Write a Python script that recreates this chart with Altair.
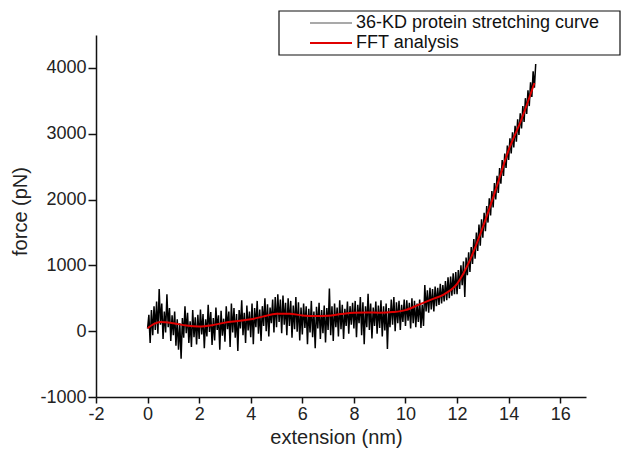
import altair as alt
import pandas as pd

# FFT smoothed curve
fft_x = [0, 0.25, 0.5, 1.0, 1.5, 2.0, 2.5, 3.0, 3.5, 4.0, 4.5, 5.0, 5.5, 6.0, 6.5,
         7.0, 7.5, 8.0, 8.5, 9.0, 9.5, 10.0, 10.5, 11.0, 11.5, 12.0, 12.5, 13.0,
         13.5, 14.0, 14.5, 15.0]
fft_y = [45, 110, 140, 120, 85, 70, 90, 130, 155, 180, 225, 265, 265, 240, 230,
         235, 260, 280, 285, 280, 290, 320, 400, 480, 560, 720, 1080, 1580,
         2150, 2750, 3220, 3770]

# raw stretching curve, sampled every 0.05 nm from 0 to 15.05 nm
raw_step = 0.05
raw_y = [
    40, 250, -180, 320, -60, 380, 20, 450, -40, 640, 100, 420, -120, 300, -20, 560, 60, 350, -150, 240,
    -60, 300, -220, 180, -280, 120, -420, 200, -100, 380, -30, 280, -180, 150, -240, 320, -90, 210, -200, 250,
    -120, 330, -50, 260, -260, 180, -80, 400, -10, 290, -210, 200, -140, 360, 20, 240, -280, 310, -70, 190,
    -160, 380, 30, 300, -240, 420, -20, 350, -100, 260, -300, 320, 40, 470, -60, 280, -180, 390, 10, 300,
    -90, 420, -200, 350, 60, 460, -40, 330, -150, 380, 80, 500, 0, 410, -80, 360, 120, 480, -20, 520,
    60, 560, 140, 480, -30, 540, 100, 430, -60, 500, 80, 460, -100, 390, 30, 520, -10, 440, -140, 360,
    -50, 420, 50, 380, -200, 340, -20, 460, -90, 300, -260, 370, 40, 430, -120, 320, -30, 390, -170, 350,
    20, 650, -60, 380, -150, 420, 60, 360, -80, 470, 30, 400, -120, 340, 80, 450, -40, 380, 100, 430,
    40, 460, -90, 400, 120, 520, -60, 440, -200, 380, 60, 570, 20, 420, -110, 360, 80, 450, -40, 390,
    50, 470, -80, 380, 10, 420, -270, 350, 60, 480, 100, 520, 0, 440, 120, 460, 20, 400, 140, 480,
    80, 470, 160, 430, 40, 500, 120, 460, 60, 420, 140, 480, 50, 400, 80, 700, 300, 620, 280, 660,
    330, 640, 300, 680, 380, 660, 400, 720, 420, 700, 450, 760, 470, 820, 500, 830, 540, 880, 560, 900,
    560, 930, 640, 1000, 700, 1060, 520, 1120, 850, 1200, 900, 1280, 1020, 1400, 1100, 1500, 1220, 1620, 1300, 1700,
    1420, 1800, 1520, 1900, 1650, 2020, 1760, 2130, 1880, 2250, 2000, 2360, 2100, 2480, 2240, 2600, 2360, 2700, 2480, 2820,
    2600, 2930, 2700, 3020, 2790, 3120, 2880, 3220, 2980, 3310, 3080, 3420, 3180, 3540, 3300, 3660, 3420, 3780, 3560, 3950,
    3700, 4060,
]
raw_x = [round(i * raw_step, 2) for i in range(len(raw_y))]

x_ticks = list(range(-2, 18))
y_ticks = list(range(-1000, 4501, 500))

legend_labels = ["36-KD protein stretching curve", "FFT analysis"]

FONT = "Liberation Sans"

raw_df = pd.DataFrame({"x": raw_x, "y": raw_y})
fft_df = pd.DataFrame({"x": fft_x, "y": fft_y})

x_axis = alt.Axis(
    values=x_ticks,
    labelExpr="datum.value % 2 === 0 ? '' + datum.value : ''",
    tickSize={"condition": {"test": "datum.value % 2 === 0", "value": 6}, "value": 3},
    grid=False, domainColor="#111", domainWidth=1.5, tickColor="#111", tickWidth=1.5,
    labelFont=FONT, labelFontSize=18, labelColor="#222", labelPadding=2,
    labelFlush=False, labelOverlap=False,
    title="extension (nm)", titleFont=FONT, titleFontSize=20, titleFontWeight="normal",
    titleColor="#222", titleX=240, titleY=46, titleBaseline="alphabetic", titleAlign="center",
)
y_axis = alt.Axis(
    values=y_ticks,
    labelExpr="datum.value % 1000 === 0 ? '' + datum.value : ''",
    tickSize={"condition": {"test": "datum.value % 1000 === 0", "value": 8}, "value": 4},
    grid=False, domainColor="#111", domainWidth=1.5, tickColor="#111", tickWidth=1.5,
    labelFont=FONT, labelFontSize=18, labelColor="#222", labelPadding=2,
    labelFlush=False, labelOverlap=False,
    title="force (pN)", titleFont=FONT, titleFontSize=20, titleFontWeight="normal",
    titleColor="#222", titleX=-70, titleY=176, titleBaseline="alphabetic", titleAlign="center",
)

xs = alt.Scale(domain=[-2, 17], nice=False, zero=False)
ys = alt.Scale(domain=[-1000, 4500], nice=False, zero=False)

raw_line = alt.Chart(raw_df).mark_line(color="black", strokeWidth=1.5).encode(
    x=alt.X("x:Q", scale=xs, axis=x_axis),
    y=alt.Y("y:Q", scale=ys, axis=y_axis),
)
fft_line = alt.Chart(fft_df).mark_line(color="#e00000", strokeWidth=2, interpolate="monotone").encode(
    x=alt.X("x:Q", scale=xs),
    y=alt.Y("y:Q", scale=ys),
)

one = pd.DataFrame({"a": [0]})
leg_box = alt.Chart(one).mark_rect(fill="white", stroke="#111", strokeWidth=1.2).encode(
    x=alt.value(183), x2=alt.value(524), y=alt.value(-24), y2=alt.value(20)
)
leg_l1 = alt.Chart(one).mark_rule(color="#555", strokeWidth=1.2).encode(
    x=alt.value(214), x2=alt.value(256), y=alt.value(-12)
)
leg_l2 = alt.Chart(one).mark_rule(color="#e00000", strokeWidth=2).encode(
    x=alt.value(214), x2=alt.value(256), y=alt.value(8)
)
leg_t1 = alt.Chart(one).mark_text(align="left", baseline="middle", font=FONT, fontSize=18, color="#111").encode(
    x=alt.value(260), y=alt.value(-12), text=alt.value(legend_labels[0])
)
leg_t2 = alt.Chart(one).mark_text(align="left", baseline="middle", font=FONT, fontSize=18, color="#111").encode(
    x=alt.value(260), y=alt.value(8), text=alt.value(legend_labels[1])
)

chart = alt.layer(raw_line, fft_line, leg_box, leg_l1, leg_l2, leg_t1, leg_t2).properties(
    width=490, height=362,
    autosize=alt.AutoSizeParams(type="none"),
    padding={"left": 88, "top": 27, "right": 35, "bottom": 54},
).configure_view(stroke=None)

chart.save("out.html", embed_options={"renderer": "svg", "actions": False})
